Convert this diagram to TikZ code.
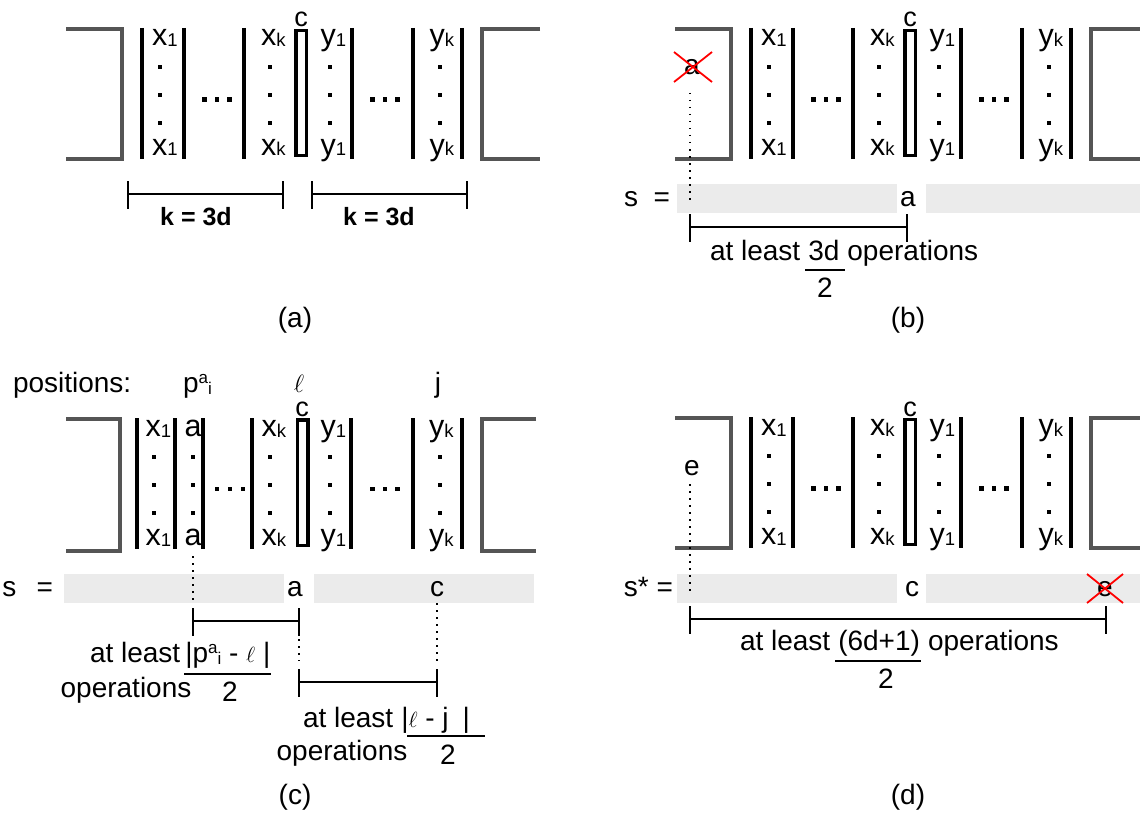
\documentclass[tikz,border=0pt]{standalone}
\usepackage{fix-cm}
\usepackage{fontspec}
\setmainfont{Liberation Sans}
\definecolor{barfill}{RGB}{235,235,235}
\definecolor{brk}{RGB}{85,85,85}
\newcommand\sbs[1]{\raisebox{-1pt}{\fontsize{18.5}{18.5}\selectfont #1}}
\newcommand\sps[1]{\raisebox{9pt}{\fontsize{17}{17}\selectfont #1}}
\newcommand\sbi[1]{\raisebox{-2pt}{\fontsize{17}{17}\selectfont #1}}
\newcommand\lellsmall{{\fontsize{22}{22}\selectfont$\ell$}}
\tikzset{
  txt/.style={inner sep=0pt, outer sep=0pt, anchor=base, font=\fontsize{28}{30}\selectfont},
  txtw/.style={txt, anchor=base west},
  cell/.style={inner sep=0pt, outer sep=0pt, anchor=base west, font=\fontsize{30.5}{32}\selectfont},
  ctop/.style={inner sep=0pt, outer sep=0pt, anchor=base, font=\fontsize{27}{29}\selectfont},
  letter/.style={inner sep=0pt, outer sep=0pt, anchor=center, font=\fontsize{28}{30}\selectfont},
  bar/.style={line width=3.5pt, black},
  boxc/.style={line width=3.5pt, black},
  brack/.style={line width=3.5pt, brk, line join=miter},
  dim/.style={line width=1.5pt, black},
  dimthick/.style={line width=2.5pt, black},
  dotln/.style={line width=1.5pt, black, dash pattern=on 1.5pt off 5.5pt},
  frac/.style={line width=1.5pt, black},
  redx/.style={line width=1.8pt, red},
  gbar/.style={fill=barfill, draw=none},
}
\newcommand\celldot[2]{\fill (#1-2,#2-2) rectangle (#1+2,#2+2);}
\newcommand\elldot[2]{\fill (#1-2.2,#2-2.2) rectangle (#1+2.2,#2+2.2);}
\newcommand\dimline[4]{% x1 x2 y style
  \draw[#4] (#1,#3-13) -- (#1,#3+15) (#1,#3) -- (#2,#3) (#2,#3-13) -- (#2,#3+15);}
\newcommand\stdstrip[1]{%
  \draw[brack] (66,29) -- (122,29) -- (122,159) -- (66,159);
  \draw[brack] (#1,29) -- (482,29) -- (482,159) -- (#1,159);
  \foreach \xx in {142,184,244,352,413,462} \draw[bar] (\xx,28) -- (\xx,159);
  \draw[boxc] (296,30.5) rectangle (306.5,155.5);
  \node[ctop] (c) at (301,27) {c};
  \node[cell] (x1t) at (152,46) {x\sbs{1}};
  \node[cell] (x1b) at (152,155) {x\sbs{1}};
  \node[cell] (xkt) at (261,46) {x\sbs{k}};
  \node[cell] (xkb) at (261,155) {x\sbs{k}};
  \node[cell] (y1t) at (320.5,46) {y\sbs{1}};
  \node[cell] (y1b) at (320.5,155) {y\sbs{1}};
  \node[cell] (ykt) at (429.5,46) {y\sbs{k}};
  \node[cell] (ykb) at (429.5,155) {y\sbs{k}};
  \foreach \xx in {160,269.5,329.5,439.5}{\foreach \yy in {67,95,123}{\celldot{\xx}{\yy}}}
  \foreach \xx in {204.5,217,229.5,372.5,385,397.5}{\elldot{\xx}{99.5}}
}
\begin{document}
\begin{tikzpicture}[x=1pt,y=-1pt]
\useasboundingbox (0,0) rectangle (1140,824);
\fill[white] (0,0) rectangle (1140,824);

% ---------------- (a)
\begin{scope}[name prefix=a-]
  \stdstrip{540}
\end{scope}
\dimline{128}{283}{194}{dim}
\dimline{312}{467}{194}{dim}
\node[txt, font=\bfseries\fontsize{25}{27}\selectfont] (ka) at (196,225) {k = 3d};
\node[txt, font=\bfseries\fontsize{25}{27}\selectfont] (kb) at (379,225) {k = 3d};
\node[txt] (la) at (295,327) {(a)};

% ---------------- (b)
\begin{scope}[shift={(609,0)}, name prefix=b-]
  \stdstrip{531}
\end{scope}
\fill[gbar] (677,184) rectangle (897,213);
\fill[gbar] (926,184) rectangle (1140,213);
\node[letter] (bA) at (692,67) {a};
\draw[redx] (674,52) -- (712,82) (674,82) -- (712,52);
\node[txt, anchor=base east] (bs) at (670,206) {s \;=};
\node[letter] (ba) at (908,199) {a};
\coordinate (bd1) at (690,93);
\coordinate (bd2) at (690,200);
\draw[dotln] (bd1) -- (bd2);
\dimline{690}{907}{227}{dim}
\node[txtw] (bt1) at (710,260) {at least};
\node[txtw] (bt2) at ([xshift=8pt]bt1.base east) {3d};
\node[txtw] (bt3) at ([xshift=8pt]bt2.base east) {operations};
\draw[frac] ([xshift=-3pt,yshift=-10pt]bt2.base west) -- ([xshift=6pt,yshift=-10pt]bt2.base east);
\node[txt] (bt4) at (825,297) {2};
\node[txt] (lb) at (908,327) {(b)};

% ---------------- (c)
\node[txtw] (pos) at (13,392) {positions:};
\node[txtw] (pai) at (183,392) {p\sps{a}\sbi{i}};
\node[txt] (pell) at (299,392) {\fontsize{25}{25}\selectfont$\ell$};
\node[txt] (pj) at (438,392) {j};
\begin{scope}[name prefix=c-]
  \draw[brack] (66,419) -- (120,419) -- (120,551) -- (66,551);
  \draw[brack] (536,419) -- (482,419) -- (482,551) -- (536,551);
  \foreach \xx in {137,175,203,252,351,413,462} \draw[bar] (\xx,418) -- (\xx,549);
  \draw[boxc] (297.5,420) rectangle (308,545.5);
  \node[ctop] (c) at (302,416) {c};
  \node[cell] (x1t) at (145.5,436) {x\sbs{1}};
  \node[cell] (x1b) at (145.5,545) {x\sbs{1}};
  \node[cell] (at) at (184.5,436) {a};
  \node[cell] (ab) at (184.5,545) {a};
  \node[cell] (xkt) at (261.5,436) {x\sbs{k}};
  \node[cell] (xkb) at (261.5,545) {x\sbs{k}};
  \node[cell] (y1t) at (320.5,436) {y\sbs{1}};
  \node[cell] (y1b) at (320.5,545) {y\sbs{1}};
  \node[cell] (ykt) at (429,436) {y\sbs{k}};
  \node[cell] (ykb) at (429,545) {y\sbs{k}};
  \foreach \xx in {154,192.5,269.5,329.5,439.5}{\foreach \yy in {457,485,513}{\celldot{\xx}{\yy}}}
  \foreach \xx in {217,230,243,372.5,385,397.5}{\elldot{\xx}{489}}
\end{scope}
\fill[gbar] (64,574) rectangle (284,603);
\fill[gbar] (314,574) rectangle (534,603);
\node[txt, anchor=base east] (cs) at (53,596) {s \;\,=};
\node[letter] (ca) at (295,589) {a};
\node[letter] (cc) at (437,589) {c};
\coordinate (cd1) at (193,556);
\coordinate (cd2) at (193,602);
\draw[dotln] (cd1) -- (cd2);
\dimline{193}{299}{621}{dim}
\coordinate (cd3) at (299,639);
\coordinate (cd4) at (299,661);
\draw[dotln] (cd3) -- (cd4);
\coordinate (cd5) at (437,603);
\coordinate (cd6) at (437,661);
\draw[dotln] (cd5) -- (cd6);
\dimline{299}{437}{682}{dim}
\node[txtw] (ct1) at (90,662) {at least};
\node[txtw] (ct2) at ([xshift=5pt]ct1.base east) {|p\sps{a}\sbi{i} - \lellsmall\ |};
\draw[frac] ([xshift=-1pt,yshift=-12pt]ct2.base west) -- ([xshift=1pt,yshift=-12pt]ct2.base east);
\node[txt] (ct3) at (126,697) {operations};
\node[txt] (ct4) at (230,701) {2};
\node[txtw] (ct5) at (303,727) {at least};
\node[txtw] (ct6) at ([xshift=8pt]ct5.base east) {|\lellsmall\ - j\hspace{14pt}|};
\draw[frac] ([xshift=6pt,yshift=-9pt]ct6.base west) -- ([xshift=15pt,yshift=-9pt]ct6.base east);
\node[txt] (ct7) at (342,760) {operations};
\node[txt] (ct8) at (448,764) {2};
\node[txt] (lc) at (295,804) {(c)};

% ---------------- (d)
\begin{scope}[shift={(609,389)}, name prefix=d-]
  \stdstrip{531}
\end{scope}
\fill[gbar] (677,574) rectangle (897,603);
\fill[gbar] (926,574) rectangle (1140,603);
\node[letter] (de) at (692,468) {e};
\node[txt, anchor=base east] (ds) at (673,596) {s* =};
\node[letter] (dc) at (912,589) {c};
\node[letter] (dE) at (1105,589) {e};
\draw[redx] (1087,574) -- (1123,603) (1087,603) -- (1123,574);
\coordinate (dd1) at (690,484);
\coordinate (dd2) at (690,591);
\draw[dotln] (dd1) -- (dd2);
\dimline{690}{1106}{619}{dimthick}
\node[txtw] (dt1) at (740,650) {at least};
\node[txtw] (dt2) at ([xshift=8pt]dt1.base east) {(6d+1)};
\node[txtw] (dt3) at ([xshift=8pt]dt2.base east) {operations};
\draw[frac] ([xshift=-3pt,yshift=-11pt]dt2.base west) -- ([xshift=1pt,yshift=-11pt]dt2.base east);
\node[txt] (dt4) at (886,688) {2};
\node[txt] (ld) at (908,804) {(d)};
\end{tikzpicture}
\end{document}
